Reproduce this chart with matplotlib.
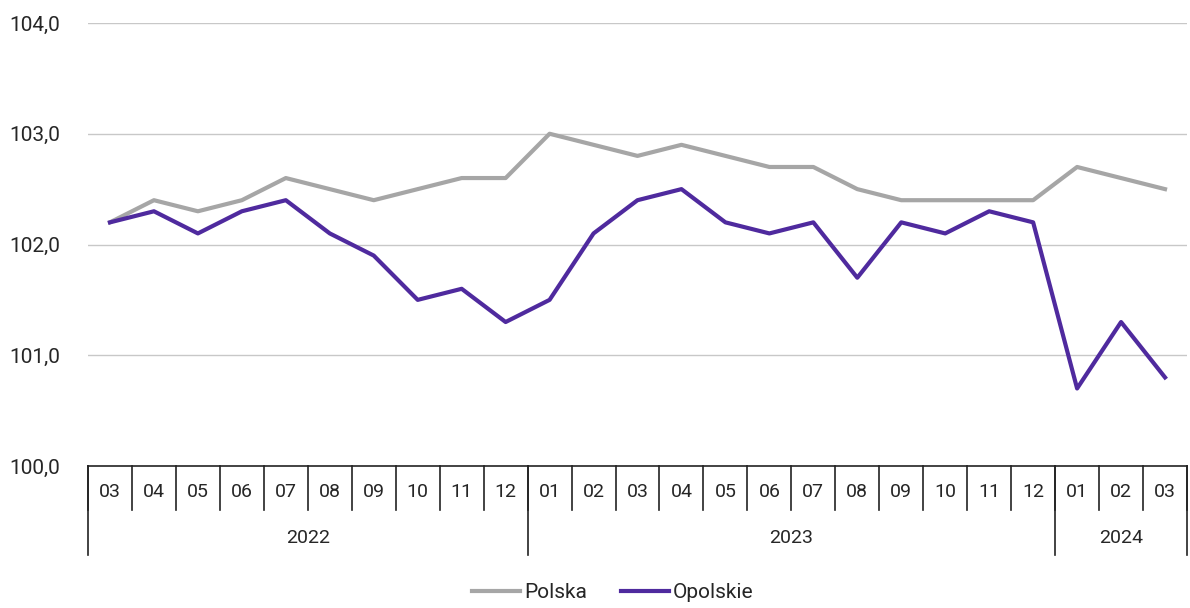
import numpy as np
import matplotlib
matplotlib.use("Agg")
import matplotlib.pyplot as plt
import matplotlib.transforms as mtransforms

months = ["03", "04", "05", "06", "07", "08", "09", "10", "11", "12",
          "01", "02", "03", "04", "05", "06", "07", "08", "09", "10", "11", "12",
          "01", "02", "03"]
years = ["2022", "2023", "2024"]
year_counts = [10, 12, 3]

polska = [102.2, 102.4, 102.3, 102.4, 102.6, 102.5, 102.4, 102.5, 102.6, 102.6,
          103.0, 102.9, 102.8, 102.9, 102.8, 102.7, 102.7, 102.5, 102.4, 102.4, 102.4, 102.4,
          102.7, 102.6, 102.5]
opolskie = [102.2, 102.3, 102.1, 102.3, 102.4, 102.1, 101.9, 101.5, 101.6, 101.3,
            101.5, 102.1, 102.4, 102.5, 102.2, 102.1, 102.2, 101.7, 102.2, 102.1, 102.3, 102.2,
            100.7, 101.3, 100.8]
yticks = [100, 101, 102, 103, 104]

plt.rcParams['font.family'] = ['Roboto', 'DejaVu Sans']
txt = "#262626"

fig = plt.figure(figsize=(11.9, 6.08), dpi=100)
ax = fig.add_axes([88 / 1190, 1 - 466 / 608, (1187 - 88) / 1190, 443 / 608])

x = np.arange(len(months))
ax.plot(x, polska, color="#a6a6a6", lw=3.0, label="Polska", solid_joinstyle="round")
ax.plot(x, opolskie, color="#4f2a9e", lw=3.0, label="Opolskie", solid_joinstyle="round")

ax.set_xlim(-0.5, len(months) - 0.5)
ax.set_ylim(100, 104)
ax.set_yticks(yticks)
ax.set_yticklabels([f"{v:.1f}".replace(".", ",") for v in yticks], fontsize=15, color=txt)
ax.tick_params(axis="y", length=0, pad=20)
ax.set_xticks([])
for v in yticks[1:]:
    ax.axhline(v, color="#c8c8c8", lw=1.0, zorder=0)
for s in ["top", "right", "left"]:
    ax.spines[s].set_visible(False)
ax.spines["bottom"].set_color("#222222")
ax.spines["bottom"].set_linewidth(1.2)

trans = mtransforms.blended_transform_factory(ax.transData, ax.transAxes)
h = 443.0
for i, m in enumerate(months):
    ax.text(i, -26 / h, m, transform=trans, ha="center", va="center", fontsize=14, color=txt)
for i in range(len(months) + 1):
    ax.plot([i - 0.5, i - 0.5], [0, -44 / h], transform=trans, color="#222222", lw=1.2, clip_on=False)

start = 0
for yr, n in zip(years, year_counts):
    ax.text(start + n / 2 - 0.5, -72 / h, yr, transform=trans, ha="center", va="center",
            fontsize=14, color=txt)
    ax.plot([start - 0.5, start - 0.5], [0, -89 / h], transform=trans, color="#222222", lw=1.2, clip_on=False)
    start += n
ax.plot([start - 0.5, start - 0.5], [0, -89 / h], transform=trans, color="#222222", lw=1.2, clip_on=False)

fig.legend(loc="center", bbox_to_anchor=(0.515, 1 - 593 / 608), ncol=2, frameon=False,
           fontsize=15, handlelength=2.3, handletextpad=0.2, columnspacing=1.6, labelcolor=txt)

fig.savefig("out.png", dpi=100)
